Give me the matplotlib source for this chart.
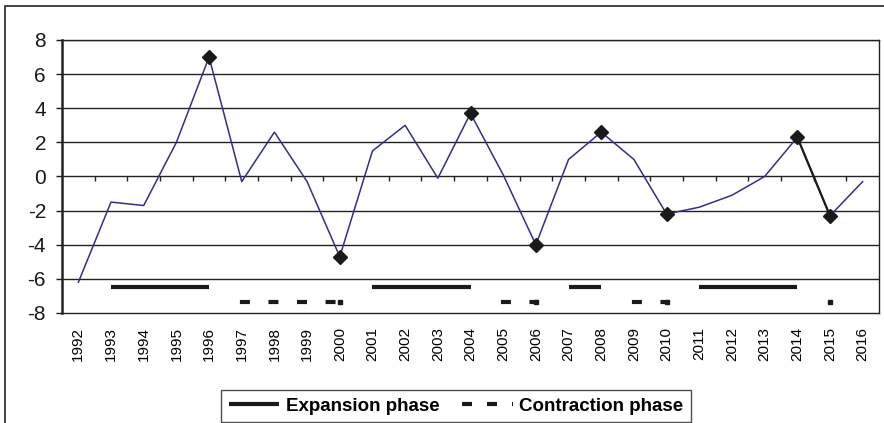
import numpy as np
import matplotlib.pyplot as plt
from matplotlib.patches import Rectangle
from matplotlib.lines import Line2D

plt.rcParams['font.family'] = ['Liberation Sans', 'DejaVu Sans']
plt.rcParams['axes.unicode_minus'] = False

years = list(range(1992, 2017))
growth = [-6.2, -1.5, -1.7, 2.0, 7.0, -0.3, 2.6, -0.3, -4.7, 1.5, 3.0, -0.1, 3.7,
          0.1, -4.0, 1.0, 2.6, 1.0, -2.2, -1.8, -1.1, 0.0, 2.3, -2.3, -0.3]
turning_years = [1996, 2000, 2004, 2006, 2008, 2010, 2014, 2015]
expansion_years = [1993, 1994, 1995, 1996, 2001, 2002, 2003, 2004, 2007, 2008,
                   2011, 2012, 2013, 2014]
contraction_years = [1997, 1998, 1999, 2000, 2005, 2006, 2009, 2010, 2015]
expansion_level = -6.5
contraction_level = -7.35

x = np.arange(len(years))
g = np.array(growth)
turn = np.array([v if y in turning_years else np.nan for y, v in zip(years, growth)])
exp_ = np.array([expansion_level if y in expansion_years else np.nan for y in years])
con = np.array([contraction_level if y in contraction_years else np.nan for y in years])

fig = plt.figure(figsize=(8.84, 4.23), dpi=100)
ax = fig.add_axes([62/884, 1 - 313/423, (879-62)/884, (313-40)/423])

# outer chart frame
fig.patches.append(Rectangle((5/884, -0.1), 1.2, (417/423) + 0.1, transform=fig.transFigure,
                             fill=False, edgecolor='#222222', lw=1.2))

for yv in range(-6, 9, 2):
    ax.axhline(yv, color='#222222', lw=1.0, zorder=1)

# category tick marks on the zero line
ax.vlines(x[:-1] + 0.5, -0.25, 0, color='#222222', lw=1.0, zorder=1)

ax.plot(x, g, color='#30308a', lw=1.1, zorder=3)
ax.plot(x, turn, color='#1a1a1a', lw=1.6, marker='D', markersize=7.3, zorder=4)
ax.plot(x, exp_, color='#1a1a1a', lw=3, solid_capstyle='butt', zorder=2)
con_ends = [i for i in range(len(con)) if not np.isnan(con[i]) and (i == len(con) - 1 or np.isnan(con[i+1]))]
ax.plot(x, con, color='#1a1a1a', lw=3, dashes=(1.4, 5.45), dash_capstyle='projecting',
        marker='s', markersize=2.2, markevery=con_ends, zorder=2)

ax.set_xlim(-0.5, len(years) - 0.5)
ax.set_ylim(-8, 8)
ax.set_yticks(range(-8, 9, 2))
ax.set_xticks(x)
ax.set_xticklabels([str(y) for y in years], rotation=90, fontsize=11)
ax.tick_params(axis='x', length=0, pad=10)
ax.tick_params(axis='y', labelsize=15, length=4.5, width=1.0, pad=7, colors='#1a1a1a')
for s in ['top', 'right', 'bottom']:
    ax.spines[s].set_color('#222222')
    ax.spines[s].set_linewidth(1.0)
ax.spines['left'].set_color('#222222')
ax.spines['left'].set_linewidth(1.8)

handles = [Line2D([], [], color='#1a1a1a', lw=3, solid_capstyle='butt'),
           Line2D([], [], color='#1a1a1a', lw=3, dashes=(2.4, 3.6))]
leg = fig.legend(handles, ['Expansion phase', 'Contraction phase'], ncol=2,
                 loc='lower center', bbox_to_anchor=(456/884, 1/423),
                 prop={'weight': 'bold', 'size': 13.5}, frameon=True, fancybox=False,
                 handlelength=2.7, columnspacing=1.2, handletextpad=0.35,
                 borderpad=0.4, borderaxespad=0)
leg.get_frame().set_edgecolor('#222222')
leg.get_frame().set_linewidth(1.0)

fig.savefig('out.png', dpi=100)
